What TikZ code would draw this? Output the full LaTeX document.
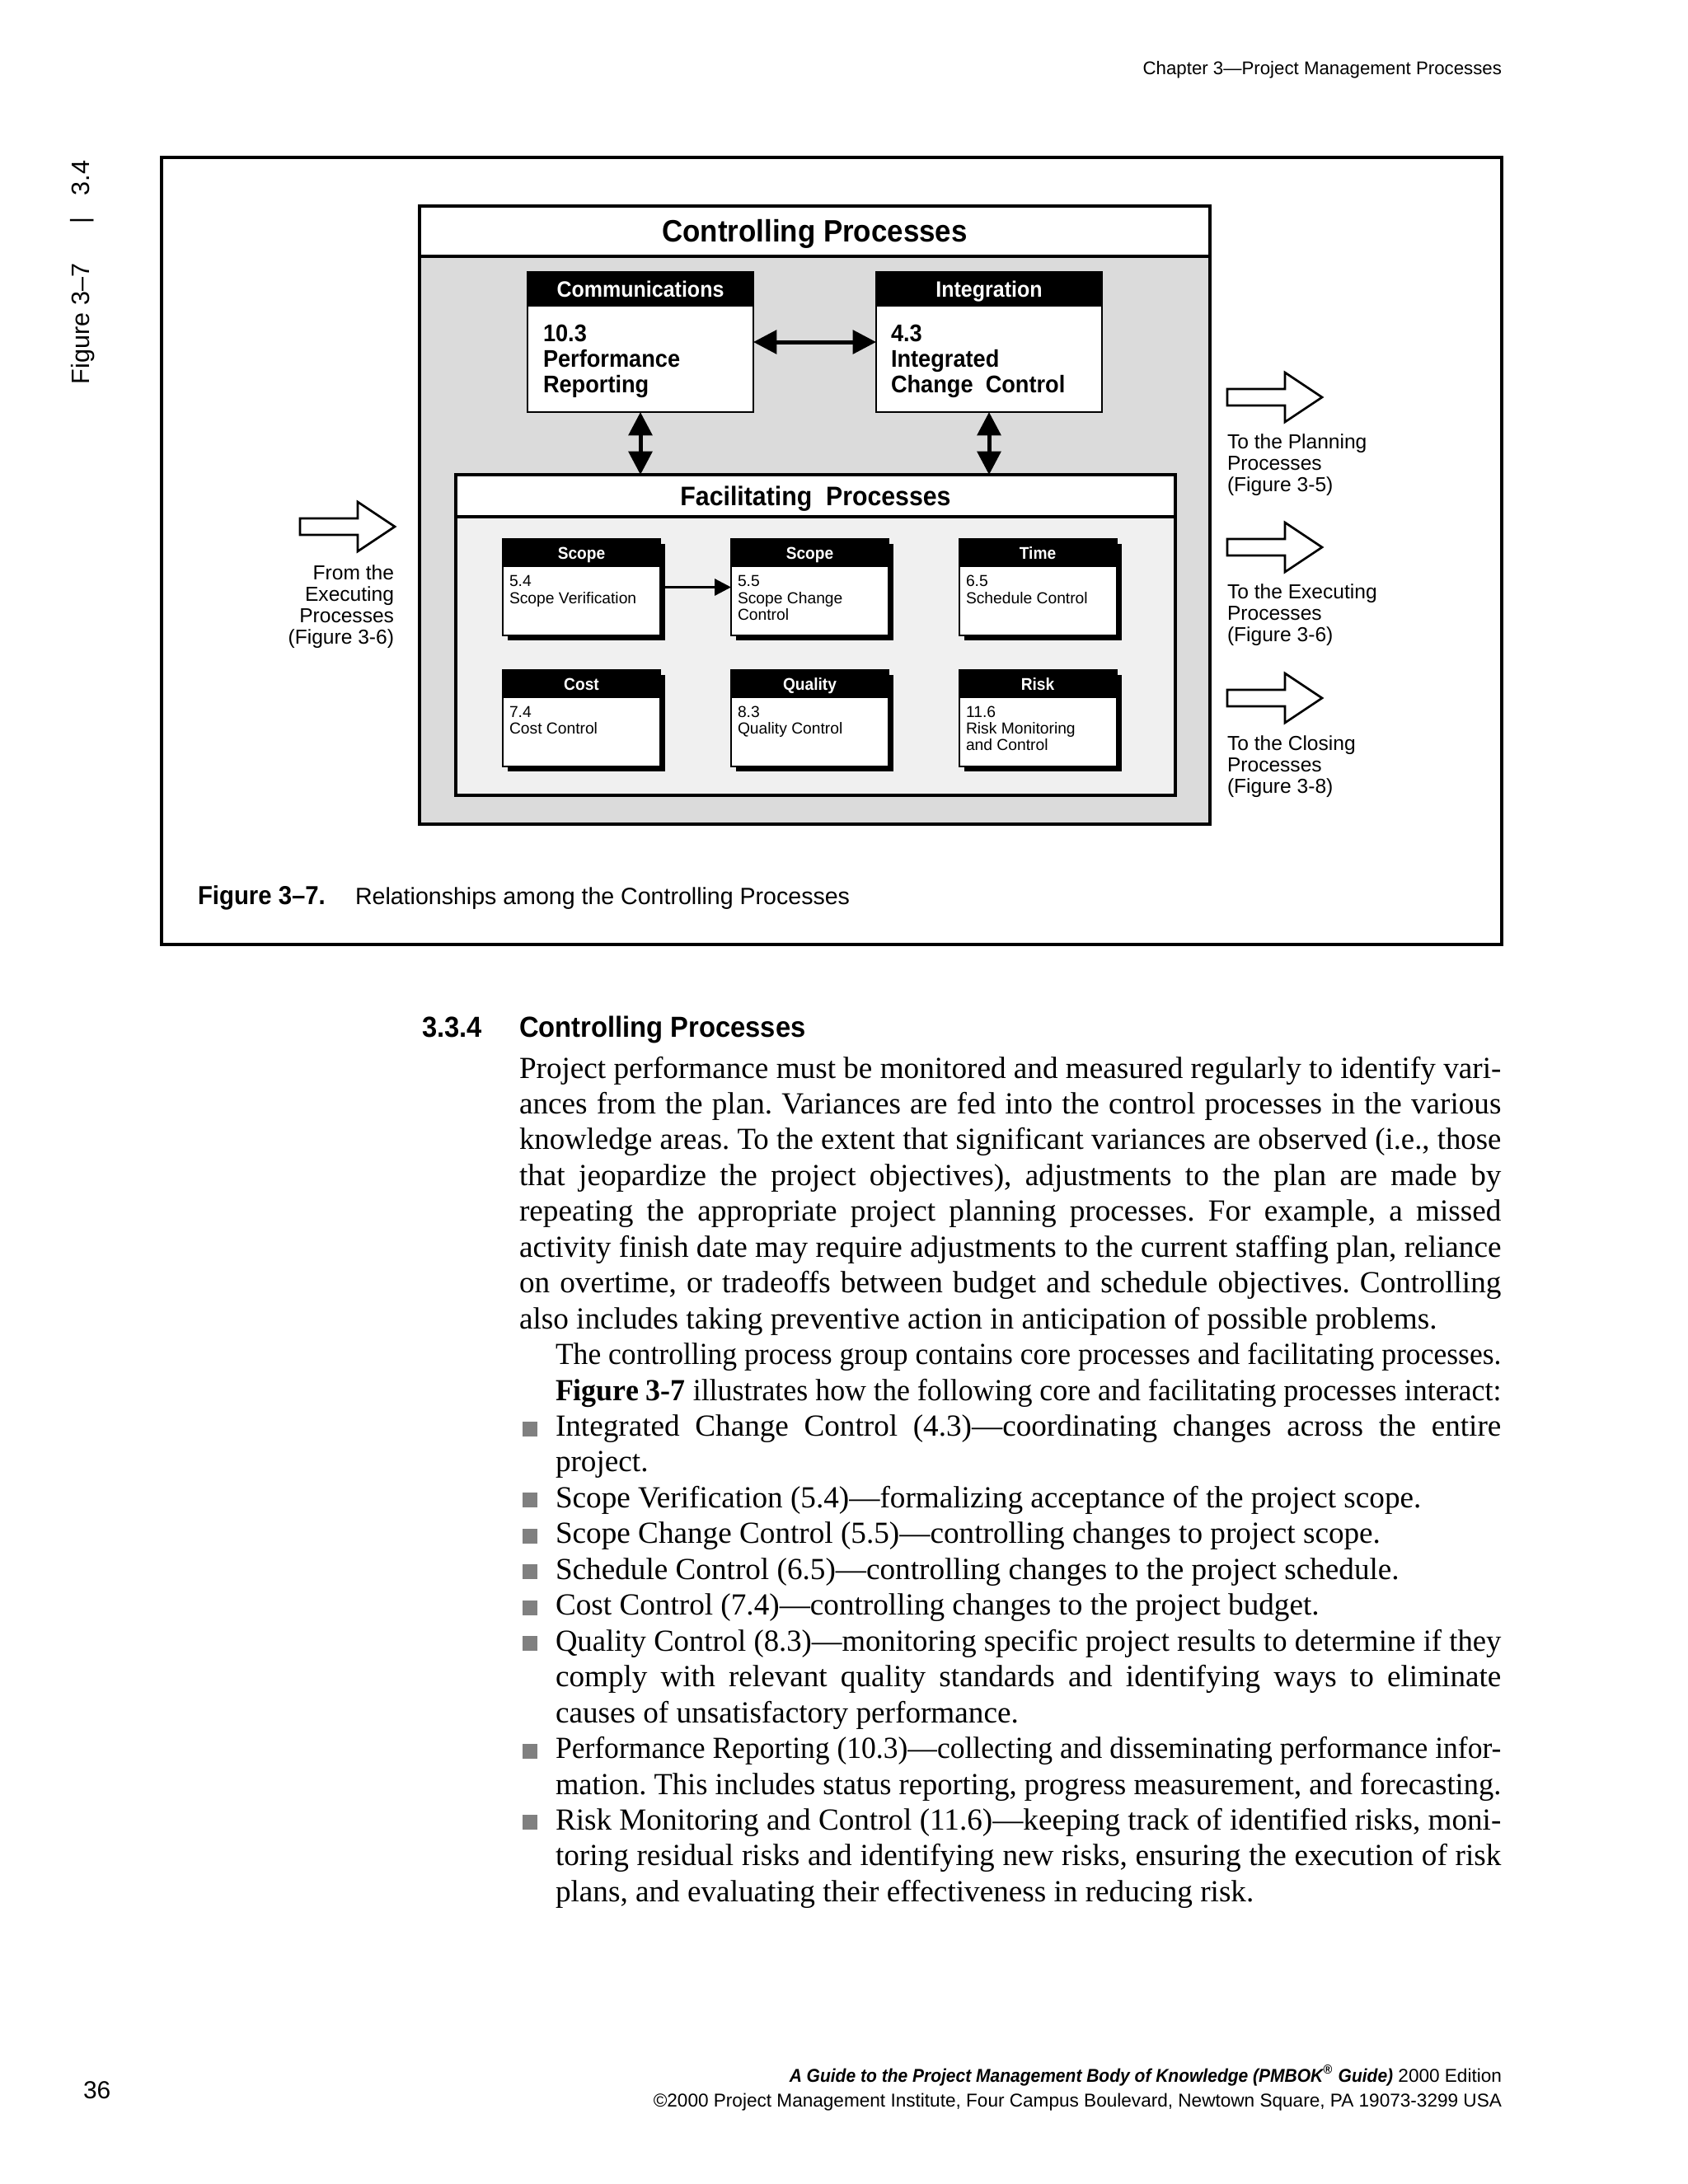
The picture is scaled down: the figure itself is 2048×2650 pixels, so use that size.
\documentclass[tikz,border=0pt]{standalone}
\usepackage{fontspec}
\usepackage{graphicx}
\setmainfont{Liberation Serif}
\newfontfamily\sansf{Liberation Sans}
\newfontfamily\sansc{Liberation Sans}[FakeStretch=0.93]
\usetikzlibrary{arrows.meta,shadows}
\definecolor{ctrlgray}{gray}{0.86}
\definecolor{facgray}{gray}{0.94}
\definecolor{bulletgray}{gray}{0.5}
\newcommand\PX[1]{#1*0.3bp}
\newsavebox\linebox
\newcommand\fitline[2]{%
  \sbox\linebox{#2}%
  \ifdim\wd\linebox>#1\relax
    \pgfmathsetmacro\fitratio{(#1)/(\the\wd\linebox)}%
    \scalebox{\fitratio}[1]{\usebox\linebox}%
  \else
    \makebox[#1][s]{#2}%
  \fi}
\newcommand\jl[1]{\fitline{357.4bp}{#1}}
\newcommand\jm[1]{\fitline{344.2bp}{#1}}
\tikzset{
  every node/.style={inner sep=0pt, outer sep=0pt},
  bandtop/.style 2 args={path picture={
     \fill[white] (path picture bounding box.north west) rectangle ([yshift=-#1*0.3bp]path picture bounding box.north east);
     \draw[line width=#2] ([yshift=-#1*0.3bp]path picture bounding box.north west) -- ([yshift=-#1*0.3bp]path picture bounding box.north east);}},
  hdrband/.style={path picture={
     \fill[black] (path picture bounding box.north west) rectangle ([yshift=-#1*0.3bp]path picture bounding box.north east);}},
  bigbox/.style={draw, line width=0.8bp, fill=white, minimum width=\PX{274}, minimum height=\PX{170}, hdrband=42},
  smallbox/.style={draw, line width=0.6bp, fill=white, minimum width=\PX{191}, minimum height=\PX{117}, hdrband=34,
     drop shadow={shadow xshift=1.8bp, shadow yshift=-1.8bp, fill=black, opacity=1}},
  titletext/.style={font=\sansc\bfseries\fontsize{11.3}{13}\selectfont, anchor=base},
  factitle/.style={font=\sansc\bfseries\fontsize{9.8}{12}\selectfont, anchor=base},
  bighdr/.style={font=\sansc\bfseries\fontsize{8.1}{10}\selectfont, text=white, anchor=base},
  bigbody/.style={font=\sansc\bfseries\fontsize{8.8}{10}\selectfont, anchor=base west},
  smallhdr/.style={font=\sansc\bfseries\fontsize{6.2}{7}\selectfont, text=white, anchor=base},
  smallbody/.style={font=\sansf\fontsize{5.8}{6.5}\selectfont, anchor=base west},
  sidelab/.style={font=\sansf\fontsize{7.4}{8}\selectfont},
  tabtext/.style={font=\sansf\fontsize{9.2}{11}\selectfont, rotate=90},
  hdrtext/.style={font=\sansf\fontsize{6.7}{8}\selectfont, anchor=base east},
  capb/.style={font=\sansc\bfseries\fontsize{9.5}{11}\selectfont, anchor=base west},
  capr/.style={font=\sansf\fontsize{8.6}{10}\selectfont, anchor=base west},
  headb/.style={font=\sansc\bfseries\fontsize{10.6}{12}\selectfont, anchor=base west},
  body/.style={font=\fontsize{11.2}{13}\selectfont\frenchspacing, anchor=base west},
  bulletsq/.style={fill=bulletgray, minimum size=\PX{18}, anchor=south},
  footr/.style={font=\sansf\fontsize{6.8}{8}\selectfont, anchor=base east},
  pagenum/.style={font=\sansf\fontsize{9}{11}\selectfont, anchor=base west},
  bigarr/.style={{Triangle[length=8.5bp,width=8.5bp]}-{Triangle[length=8.5bp,width=8.5bp]}, line width=1.5bp},
  smallarr/.style={-{Triangle[length=6bp,width=6bp]}, line width=1bp},
  fatarrow/.style={draw, line width=0.8bp, fill=white, line join=miter}
}
\begin{document}
\begin{tikzpicture}[x=0.3bp,y=-0.3bp]
\useasboundingbox (0,0) rectangle (2048,2650);
\fill[white] (0,0) rectangle (2048,2650);

% running head
\node[hdrtext] (hdr) at (1822,90) {Chapter 3—Project Management Processes};

% side tab
\node[tabtext, anchor=base west] (tabfig) at (108,466) {Figure 3–7};
\node[tabtext, anchor=center] (tabbar) at (100,268) {|};
\node[tabtext, anchor=base west] (tabnum) at (108,237) {3.4};

% figure frame
\node[draw, line width=1.1bp, minimum width=\PX{1626}, minimum height=\PX{955}] (frame) at (1009,668.5) {};

% controlling processes
\node[draw, line width=1.1bp, fill=ctrlgray, minimum width=\PX{959}, minimum height=\PX{750}, bandtop={61}{1.1bp}] (ctrl) at (988.5,625) {};
\node[titletext] (ctrlt) at (988.5,293) {Controlling Processes};

% core boxes
\node[bigbox] (comm) at (777,415) {};
\node[bigbox] (integ) at (1200,415) {};
\node[bighdr] (commh) at (777,360) {Communications};
\node[bighdr] (integh) at (1200,360) {Integration};
\node[bigbody] (comm1) at (659,414) {10.3};
\node[bigbody] (comm2) at (659,445) {Performance};
\node[bigbody] (comm3) at (659,476) {Reporting};
\node[bigbody] (integ1) at (1081,414) {4.3};
\node[bigbody] (integ2) at (1081,445) {Integrated};
\node[bigbody] (integ3) at (1081,476) {Change\ \ Control};

% facilitating processes
\node[draw, line width=1.4bp, fill=facgray, minimum width=\PX{873}, minimum height=\PX{389}, bandtop={51}{1.4bp}] (facil) at (989.5,770.5) {};
\node[factitle] (facilt) at (989.5,613) {Facilitating\ \ Processes};

\draw[bigarr] (comm.east) -- (integ.west);
\draw[bigarr] (comm.south) -- (comm.south |- facil.north);
\draw[bigarr] (integ.south) -- (integ.south |- facil.north);

% facilitating boxes
\node[smallbox] (sv) at (705.5,712.5) {};
\node[smallbox] (scc) at (982.5,712.5) {};
\node[smallbox] (sch) at (1259,712.5) {};
\node[smallbox] (cost) at (705.5,871) {};
\node[smallbox] (qual) at (982.5,871) {};
\node[smallbox] (risk) at (1259,871) {};

\node[smallhdr] (svh) at (705.5,678) {Scope};
\node[smallhdr] (scch) at (982.5,678) {Scope};
\node[smallhdr] (schh) at (1259,678) {Time};
\node[smallhdr] (costh) at (705.5,837) {Cost};
\node[smallhdr] (qualh) at (982.5,837) {Quality};
\node[smallhdr] (riskh) at (1259,837) {Risk};

\node[smallbody] (sv1) at (618,711) {5.4};
\node[smallbody] (sv2) at (618,732) {Scope Verification};
\node[smallbody] (scc1) at (895,711) {5.5};
\node[smallbody] (scc2) at (895,732) {Scope Change};
\node[smallbody] (scc3) at (895,752) {Control};
\node[smallbody] (sch1) at (1172,711) {6.5};
\node[smallbody] (sch2) at (1172,732) {Schedule Control};
\node[smallbody] (cost1) at (618,870) {7.4};
\node[smallbody] (cost2) at (618,890) {Cost Control};
\node[smallbody] (qual1) at (895,870) {8.3};
\node[smallbody] (qual2) at (895,890) {Quality Control};
\node[smallbody] (risk1) at (1172,870) {11.6};
\node[smallbody] (risk2) at (1172,890) {Risk Monitoring};
\node[smallbody] (risk3) at (1172,910) {and Control};

\draw[smallarr] (sv.east) -- (scc.west);

% hollow arrows
\coordinate (fain) at (364,639);
\coordinate (faplan) at (1489,482);
\coordinate (faexec) at (1489,664);
\coordinate (faclose) at (1489,847);
\foreach \c in {fain,faplan,faexec,faclose}{
  \draw[fatarrow] (\c) ++(0,-10) -- ++(70,0) -- ++(0,-20) -- ++(45,30) -- ++(-45,30) -- ++(0,-20) -- ++(-70,0) -- cycle;
}

\node[sidelab, anchor=base east] (in1) at (478,703) {From the};
\node[sidelab, anchor=base east] (in2) at (478,729) {Executing};
\node[sidelab, anchor=base east] (in3) at (478,755) {Processes};
\node[sidelab, anchor=base east] (in4) at (478,781) {(Figure 3-6)};

\node[sidelab, anchor=base west] (pl1) at (1489,544) {To the Planning};
\node[sidelab, anchor=base west] (pl2) at (1489,570) {Processes};
\node[sidelab, anchor=base west] (pl3) at (1489,596) {(Figure 3-5)};
\node[sidelab, anchor=base west] (ex1) at (1489,726) {To the Executing};
\node[sidelab, anchor=base west] (ex2) at (1489,752) {Processes};
\node[sidelab, anchor=base west] (ex3) at (1489,778) {(Figure 3-6)};
\node[sidelab, anchor=base west] (cl1) at (1489,910) {To the Closing};
\node[sidelab, anchor=base west] (cl2) at (1489,936) {Processes};
\node[sidelab, anchor=base west] (cl3) at (1489,962) {(Figure 3-8)};

% caption
\node[capb] (capn) at (240,1097) {Figure 3–7.};
\node[capr] (capt) at (431,1097) {Relationships among the Controlling Processes};

% section text
\node[headb] (secn) at (512,1258) {3.3.4};
\node[headb] (sect) at (630,1258) {Controlling Processes};

\node[body] (t1) at (630,1308) {\jl{Project performance must be monitored and measured regularly to identify vari-}};
\node[body] (t2) at (630,1351.45) {\jl{ances from the plan. Variances are fed into the control processes in the various}};
\node[body] (t3) at (630,1394.9) {\jl{knowledge areas. To the extent that significant variances are observed (i.e., those}};
\node[body] (t4) at (630,1438.35) {\jl{that jeopardize the project objectives), adjustments to the plan are made by}};
\node[body] (t5) at (630,1481.8) {\jl{repeating the appropriate project planning processes. For example, a missed}};
\node[body] (t6) at (630,1525.25) {\jl{activity finish date may require adjustments to the current staffing plan, reliance}};
\node[body] (t7) at (630,1568.7) {\jl{on overtime, or tradeoffs between budget and schedule objectives. Controlling}};
\node[body] (t8) at (630,1612.15) {also includes taking preventive action in anticipation of possible problems.};
\node[body] (t9) at (674,1655.6) {\jm{The controlling process group contains core processes and facilitating processes.}};
\node[body] (t10) at (674,1699.05) {\jm{\textbf{Figure 3-7} illustrates how the following core and facilitating processes interact:}};
\node[body] (t11) at (674,1742.5) {\jm{Integrated Change Control (4.3)—coordinating changes across the entire}};
\node[body] (t12) at (674,1785.95) {project.};
\node[body] (t13) at (674,1829.4) {Scope Verification (5.4)—formalizing acceptance of the project scope.};
\node[body] (t14) at (674,1872.85) {Scope Change Control (5.5)—controlling changes to project scope.};
\node[body] (t15) at (674,1916.3) {Schedule Control (6.5)—controlling changes to the project schedule.};
\node[body] (t16) at (674,1959.75) {Cost Control (7.4)—controlling changes to the project budget.};
\node[body] (t17) at (674,2003.2) {\jm{Quality Control (8.3)—monitoring specific project results to determine if they}};
\node[body] (t18) at (674,2046.65) {\jm{comply with relevant quality standards and identifying ways to eliminate}};
\node[body] (t19) at (674,2090.1) {causes of unsatisfactory performance.};
\node[body] (t20) at (674,2133.55) {\jm{Performance Reporting (10.3)—collecting and disseminating performance infor-}};
\node[body] (t21) at (674,2177) {\jm{mation. This includes status reporting, progress measurement, and forecasting.}};
\node[body] (t22) at (674,2220.45) {\jm{Risk Monitoring and Control (11.6)—keeping track of identified risks, moni-}};
\node[body] (t23) at (674,2263.9) {\jm{toring residual risks and identifying new risks, ensuring the execution of risk}};
\node[body] (t24) at (674,2307.35) {plans, and evaluating their effectiveness in reducing risk.};

\foreach \b/\y in {b11/1742.5,b13/1829.4,b14/1872.85,b15/1916.3,b16/1959.75,b17/2003.2,b20/2133.55,b22/2220.45}{
  \node[bulletsq] (\b) at (643,\y) {};
}

% footer
\node[pagenum] (pnum) at (101,2546) {36};
\node[footr] (foot1) at (1822,2526) {{\sansc\bfseries\itshape A Guide to the Project Management Body of Knowledge (PMBOK\textsuperscript{®} Guide)} 2000 Edition};
\node[footr] (foot2) at (1822,2556) {©2000 Project Management Institute, Four Campus Boulevard, Newtown Square, PA 19073-3299 USA};
\end{tikzpicture}
\end{document}
